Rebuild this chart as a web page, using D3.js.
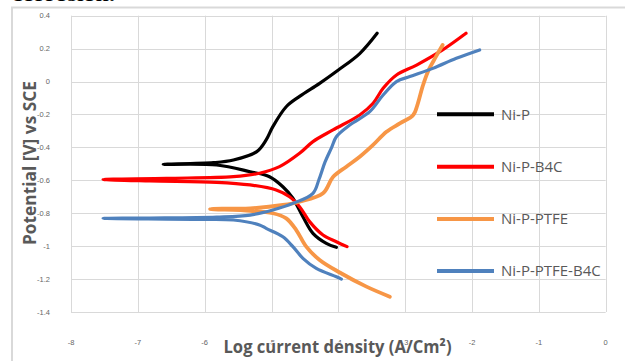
<!DOCTYPE html>
<html>
<head>
<meta charset="utf-8">
<script src="https://cdn.jsdelivr.net/npm/d3@7"></script>
<style>
  body { margin: 0; background: #fff; }
  svg { display: block; }
</style>
</head>
<body>
<script>
// series: [log current density, potential],
// ordered cathodic end -> corrosion tip -> anodic end
var niP = [[-4.03,-1.007],[-4.18,-0.983],[-4.38,-0.922],[-4.53,-0.821],[-4.68,-0.709],[-4.83,-0.639],
  [-5.03,-0.578],[-5.32,-0.548],[-5.82,-0.507],[-6.62,-0.503],[-5.87,-0.493],[-5.57,-0.477],[-5.22,-0.426],
  [-5.08,-0.355],[-4.98,-0.274],[-4.78,-0.153],[-4.58,-0.09],[-4.28,-0.011],[-4.0,0.07],[-3.68,0.17],[-3.42,0.293]];
var niPB4C = [[-3.87,-1.003],[-4.03,-0.973],[-4.23,-0.932],[-4.43,-0.851],[-4.58,-0.76],[-4.73,-0.70],
  [-4.93,-0.659],[-5.32,-0.628],[-5.82,-0.612],[-6.82,-0.604],[-7.52,-0.595],[-6.57,-0.588],[-5.57,-0.578],
  [-5.18,-0.557],[-4.88,-0.517],[-4.58,-0.436],[-4.38,-0.365],[-4.08,-0.294],[-3.68,-0.203],[-3.48,-0.132],
  [-3.33,-0.041],[-3.13,0.04],[-2.83,0.10],[-2.44,0.192],[-2.09,0.293]];
var niPPTFE = [[-3.23,-1.307],[-3.58,-1.246],[-3.98,-1.16],[-4.28,-1.084],[-4.48,-1.003],[-4.63,-0.902],
  [-4.78,-0.831],[-4.98,-0.80],[-5.32,-0.785],[-5.92,-0.774],[-5.32,-0.77],[-4.83,-0.75],[-4.58,-0.73],
  [-4.23,-0.679],[-4.08,-0.58],[-3.88,-0.517],[-3.68,-0.457],[-3.48,-0.385],[-3.28,-0.305],[-3.08,-0.254],
  [-2.88,-0.203],[-2.81,-0.132],[-2.74,-0.031],[-2.66,0.06],[-2.54,0.151],[-2.44,0.222]];
var niPPTFEB4C = [[-3.955,-1.2],[-4.03,-1.186],[-4.33,-1.135],[-4.53,-1.074],[-4.68,-1.003],[-4.83,-0.943],
  [-5.08,-0.892],[-5.18,-0.871],[-5.57,-0.841],[-6.07,-0.837],[-7.52,-0.831],[-6.82,-0.829],[-5.82,-0.823],
  [-5.32,-0.811],[-4.98,-0.78],[-4.68,-0.74],[-4.38,-0.679],[-4.29,-0.595],[-4.2,-0.49],[-4.1,-0.40],
  [-4.03,-0.335],[-3.83,-0.264],[-3.53,-0.183],[-3.33,-0.082],[-3.13,0.0],[-2.93,0.03],[-2.585,0.08],
  [-2.235,0.141],[-1.886,0.192]];

var seriesNames = ["Ni-P", "Ni-P-B4C", "Ni-P-PTFE", "Ni-P-PTFE-B4C"];
var seriesData = [niP, niPB4C, niPPTFE, niPPTFEB4C];
var seriesColors = ["#000000", "#ff0000", "#f79646", "#4f81bd"];

var xTicks = [-8, -7, -6, -5, -4, -3, -2, -1, 0];
var yTicks = [0.4, 0.2, 0, -0.2, -0.4, -0.6, -0.8, -1, -1.2, -1.4];

var W = 625, H = 361;
var svg = d3.select("body").append("svg").attr("width", W).attr("height", H);
svg.append("rect").attr("width", W).attr("height", H).attr("fill", "#fff");

// bit of the caption above, cut off by the crop
svg.append("text")
  .attr("x", 12).attr("y", 1)
  .attr("font-family", "Liberation Serif").attr("font-weight", "bold").attr("font-size", 19)
  .attr("textLength", 103).attr("lengthAdjust", "spacingAndGlyphs")
  .text("corrosion.");

// outer chart border (left + top only are in frame)
svg.append("path").attr("d", "M12,361V7.5H625")
  .attr("fill", "none").attr("stroke", "#d9d9d9").attr("stroke-width", 2);

var x = d3.scaleLinear().domain([-8, 0]).range([71, 605.7]);
var y = d3.scaleLinear().domain([-1.4, 0.4]).range([312, 15.7]);

// grid
var grid = svg.append("g").attr("stroke", "#d9d9d9").attr("stroke-width", 1);
grid.selectAll("line.v").data(xTicks).enter().append("line")
  .attr("x1", d => Math.round(x(d)) + 0.5).attr("x2", d => Math.round(x(d)) + 0.5)
  .attr("y1", y(0.4)).attr("y2", y(-1.4));
grid.selectAll("line.h").data(yTicks).enter().append("line")
  .attr("y1", d => Math.round(y(d)) + 0.5).attr("y2", d => Math.round(y(d)) + 0.5)
  .attr("x1", x(-8)).attr("x2", x(0));

// tick labels
svg.append("g").selectAll("text").data(yTicks).enter().append("text")
  .attr("x", 50).attr("y", d => y(d)).attr("dy", "0.35em")
  .attr("text-anchor", "end").attr("font-family", "Liberation Sans").attr("font-size", 7.5)
  .attr("fill", "#666").text(d => String(+d.toFixed(1)));
svg.append("g").selectAll("text").data(xTicks).enter().append("text")
  .attr("x", d => x(d)).attr("y", 342).attr("dy", "0.35em")
  .attr("text-anchor", "middle").attr("font-family", "Liberation Sans").attr("font-size", 7.5)
  .attr("fill", "#666").text(d => d);

// curves
var line = d3.line().x(d => x(d[0])).y(d => y(d[1])).curve(d3.curveCatmullRom.alpha(0.5));
svg.append("g").selectAll("path").data(seriesData).enter().append("path")
  .attr("d", line).attr("fill", "none")
  .attr("stroke", (d, i) => seriesColors[i])
  .attr("stroke-width", (d, i) => i === 2 ? 3.8 : 3.2)
  .attr("stroke-linejoin", "round").attr("stroke-linecap", "round");

// legend
var legY = [114.3, 166.7, 219, 271];
var leg = svg.append("g").selectAll("g").data(seriesNames).enter().append("g")
  .attr("transform", (d, i) => `translate(0,${legY[i]})`);
leg.append("line").attr("x1", 437).attr("x2", 494)
  .attr("stroke", (d, i) => seriesColors[i]).attr("stroke-width", 4);
leg.append("text").attr("x", 501).attr("dy", "0.36em")
  .attr("font-family", "Open Sans").attr("font-size", 15).attr("fill", "#595959")
  .text(d => d);

// axis titles
svg.append("text")
  .attr("x", 337.5).attr("y", 353).attr("text-anchor", "middle")
  .attr("font-family", "Open Sans").attr("font-weight", "bold").attr("font-size", 18)
  .attr("fill", "#595959").attr("stroke", "#fff").attr("stroke-width", 1.5).attr("paint-order", "stroke")
  .attr("textLength", 228).attr("lengthAdjust", "spacingAndGlyphs")
  .text("Log current density (A/Cm²)");
svg.append("text")
  .attr("transform", "translate(36,163) rotate(-90)").attr("text-anchor", "middle")
  .attr("font-family", "Open Sans").attr("font-weight", "bold").attr("font-size", 18)
  .attr("fill", "#595959").attr("stroke", "#fff").attr("stroke-width", 1.5).attr("paint-order", "stroke")
  .attr("textLength", 164).attr("lengthAdjust", "spacingAndGlyphs")
  .text("Potential [V] vs SCE");
</script>
</body>
</html>
